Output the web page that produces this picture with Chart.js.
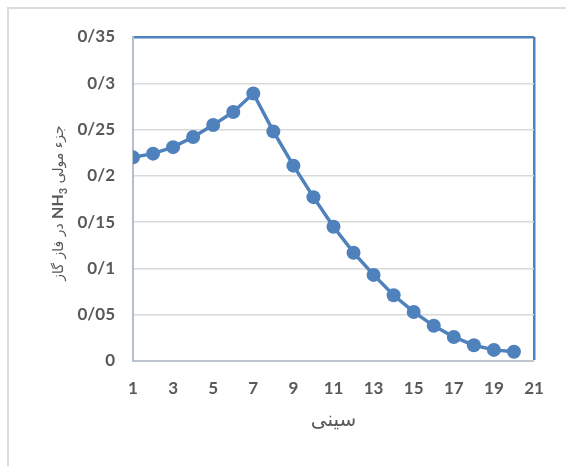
<!DOCTYPE html>
<html>
<head>
<meta charset="utf-8">
<script src="https://cdn.jsdelivr.net/npm/chart.js@4"></script>
<style>
  html, body { margin: 0; padding: 0; background: #fff; overflow: hidden; }
  #wrap { position: relative; width: 566px; height: 466px; }
  #frame { position: absolute; left: 7px; top: 7px; width: 620px; height: 520px;
           border: 2px solid #dcdcdc; pointer-events: none; box-sizing: border-box; }
  canvas { position: absolute; left: 0; top: 0; }
</style>
</head>
<body>
<div id="wrap">
  <canvas id="c" width="566" height="466"></canvas>
  <div id="frame"></div>
</div>
<script>
// Tray number and NH3 mole fraction in the gas phase
const trays = [1, 2, 3, 4, 5, 6, 7, 8, 9, 10, 11, 12, 13, 14, 15, 16, 17, 18, 19, 20];
const nh3Gas = [0.220, 0.224, 0.231, 0.242, 0.255, 0.269, 0.289, 0.248, 0.211, 0.177,
                0.145, 0.117, 0.093, 0.071, 0.053, 0.038, 0.026, 0.017, 0.012, 0.010];

const yTickLabels = ['0', '0/05', '0/1', '0/15', '0/2', '0/25', '0/3', '0/35'];
const xTickLabels = ['1', '3', '5', '7', '9', '11', '13', '15', '17', '19', '21'];

const xTitle = 'سینی';
// y title: "جزء مولی NH3 در فاز گاز" split so the formula can carry a subscript
const yTitleLead = 'جزء مولی';
const yTitleFormula = 'NH';
const yTitleSub = '3';
const yTitleTail = 'در فاز گاز';

const BLUE = '#4f81bd';
const TEXT = '#595959';
const FONT = "Lato, 'DejaVu Sans', sans-serif";
const AR_FONT = "'DejaVu Sans', sans-serif";

// Draws the rotated y-axis title with a subscripted formula
const yTitlePlugin = {
  id: 'yTitleRich',
  afterDraw(chart) {
    const { ctx, chartArea } = chart;
    // visual left-to-right order once rotated (reads bottom to top)
    const runs = [
      { t: yTitleTail, f: `14px ${AR_FONT}`, dy: 0 },
      { t: ' ', f: `14px ${AR_FONT}`, dy: 0 },
      { t: yTitleFormula, f: `bold 16px ${FONT}`, dy: 0 },
      { t: yTitleSub, f: `bold 11px ${FONT}`, dy: 4 },
      { t: ' ', f: `14px ${AR_FONT}`, dy: 0 },
      { t: yTitleLead, f: `14px ${AR_FONT}`, dy: 0 }
    ];
    ctx.save();
    ctx.direction = 'ltr';
    ctx.textAlign = 'left';
    ctx.textBaseline = 'alphabetic';
    ctx.fillStyle = TEXT;
    let total = 0;
    runs.forEach(r => { ctx.font = r.f; r.w = ctx.measureText(r.t).width; total += r.w; });
    const cx = chartArea.left - 76;
    const cy = (chartArea.top + chartArea.bottom) / 2 + 4;
    ctx.translate(cx, cy);
    ctx.rotate(-Math.PI / 2);
    let x = -total / 2;
    runs.forEach(r => {
      ctx.font = r.f;
      ctx.fillText(r.t, x, 6 + r.dy);
      x += r.w;
    });
    ctx.restore();
  }
};

new Chart(document.getElementById('c'), {
  type: 'line',
  data: {
    datasets: [{
      data: trays.map((t, i) => ({ x: t, y: nh3Gas[i] })),
      borderColor: BLUE,
      backgroundColor: BLUE,
      borderWidth: 3.5,
      pointRadius: 7,
      pointHoverRadius: 7,
      pointBackgroundColor: BLUE,
      pointBorderColor: BLUE,
      pointBorderWidth: 0,
      tension: 0
    }]
  },
  options: {
    responsive: false,
    animation: false,
    events: [],
    layout: { padding: { left: 0, top: 37, right: 32, bottom: 0 } },
    plugins: { legend: { display: false }, tooltip: { enabled: false } },
    scales: {
      x: {
        type: 'linear',
        min: 1, max: 21,
        afterFit: s => { s.height = 105; },
        ticks: {
          stepSize: 2,
          padding: 17,
          color: TEXT,
          font: { family: FONT, size: 17, weight: 'bold' },
          callback: (v, i) => xTickLabels[i]
        },
        grid: {
          drawTicks: false,
          color: ctx => (ctx.tick && ctx.tick.value === 21) ? BLUE : 'rgba(0,0,0,0)',
          lineWidth: ctx => (ctx.tick && ctx.tick.value === 21) ? 2.5 : 0
        },
        border: { display: true, color: '#bfc6cf', width: 2 },
        title: {
          display: true,
          text: xTitle,
          color: TEXT,
          font: { family: AR_FONT, size: 20, weight: 'normal' },
          padding: { top: 0, bottom: 33 }
        }
      },
      y: {
        min: 0, max: 0.35,
        afterFit: s => { s.width = 133; },
        ticks: {
          stepSize: 0.05,
          padding: 18,
          color: TEXT,
          font: { family: FONT, size: 17, weight: 'bold' },
          callback: (v, i) => yTickLabels[i]
        },
        grid: {
          drawTicks: false,
          color: ctx => (ctx.tick && Math.abs(ctx.tick.value - 0.35) < 1e-9) ? BLUE : '#d9d9d9',
          lineWidth: ctx => (ctx.tick && Math.abs(ctx.tick.value - 0.35) < 1e-9) ? 2.5 : 1.5
        },
        border: { display: true, color: '#b4bfcc', width: 2 }
      }
    }
  },
  plugins: [yTitlePlugin]
});
</script>
</body>
</html>
